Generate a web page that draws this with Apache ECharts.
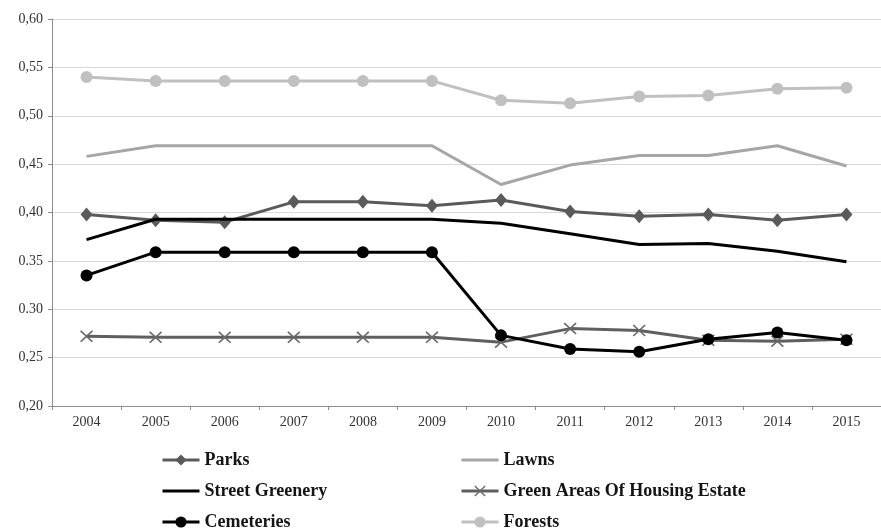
<!DOCTYPE html>
<html>
<head>
<meta charset="utf-8">
<script src="https://cdn.jsdelivr.net/npm/echarts@6/dist/echarts.min.js"></script>
<style>html,body{margin:0;padding:0;background:#fff;}#c{width:881px;height:529px;}</style>
</head>
<body>
<div id="c"></div>
<script>
var years = ['2004','2005','2006','2007','2008','2009','2010','2011','2012','2013','2014','2015'];
var yTickLabels = {'0.2':'0,20','0.25':'0,25','0.3':'0.30','0.35':'0.35','0.4':'0,40','0.45':'0,45','0.5':'0,50','0.55':'0,55','0.6':'0,60'};
var parks = [0.398, 0.392, 0.390, 0.411, 0.411, 0.407, 0.413, 0.401, 0.396, 0.398, 0.392, 0.398];
var lawns = [0.458, 0.469, 0.469, 0.469, 0.469, 0.469, 0.429, 0.449, 0.459, 0.459, 0.469, 0.448];
var streetGreenery = [0.372, 0.393, 0.393, 0.393, 0.393, 0.393, 0.389, 0.378, 0.367, 0.368, 0.360, 0.349];
var housingEstate = [0.272, 0.271, 0.271, 0.271, 0.271, 0.271, 0.266, 0.280, 0.278, 0.268, 0.267, 0.269];
var cemeteries = [0.335, 0.359, 0.359, 0.359, 0.359, 0.359, 0.273, 0.259, 0.256, 0.269, 0.276, 0.268];
var forests = [0.540, 0.536, 0.536, 0.536, 0.536, 0.536, 0.516, 0.513, 0.520, 0.521, 0.528, 0.529];

var xPath = 'path://M0,0.9L0.9,0L5,4.1L9.1,0L10,0.9L5.9,5L10,9.1L9.1,10L5,5.9L0.9,10L0,9.1L4.1,5Z';
var font = 'Liberation Serif';
var legendText = {fontFamily: font, fontWeight: 'bold', fontSize: 18, color: '#151515'};

var chart = echarts.init(document.getElementById('c'));
chart.setOption({
  backgroundColor: '#ffffff',
  animation: false,
  grid: {left: 52, top: 19, width: 836, height: 387},
  xAxis: {
    type: 'category',
    data: years,
    boundaryGap: true,
    axisLine: {lineStyle: {color: '#8c8c8c', width: 1}},
    axisTick: {show: true, length: 4, inside: false, lineStyle: {color: '#8c8c8c'}},
    axisLabel: {color: '#333', fontFamily: font, fontSize: 14, margin: 9}
  },
  yAxis: {
    type: 'value',
    min: 0.2, max: 0.6, interval: 0.05,
    axisLine: {show: true, lineStyle: {color: '#8c8c8c', width: 1}},
    axisTick: {show: true, length: 4, lineStyle: {color: '#8c8c8c'}},
    splitLine: {lineStyle: {color: '#d9d9d9', width: 1}},
    axisLabel: {
      color: '#333', fontFamily: font, fontSize: 14, margin: 9,
      formatter: function (v) { var k = String(Math.round(v * 100) / 100); return yTickLabels[k] || k; }
    }
  },
  legend: [
    {
      orient: 'vertical', left: 161, top: 451, height: 90, padding: 0, itemGap: 13, itemWidth: 37, itemHeight: 14,
      lineStyle: {width: 3},
      data: ['Parks', {name: 'Street Greenery', itemStyle: {opacity: 0}}, 'Cemeteries'],
      textStyle: legendText
    },
    {
      orient: 'vertical', left: 460, top: 451, height: 90, padding: 0, itemGap: 13, itemWidth: 37, itemHeight: 14,
      lineStyle: {width: 3},
      data: [{name: 'Lawns', itemStyle: {opacity: 0}}, 'Green Areas Of Housing Estate', 'Forests'],
      textStyle: legendText
    }
  ],
  series: [
    {name: 'Lawns', type: 'line', data: lawns, symbol: 'none', z: 2,
      lineStyle: {color: '#a6a6a6', width: 3}, itemStyle: {color: '#a6a6a6'}},
    {name: 'Forests', type: 'line', data: forests, symbol: 'circle', symbolSize: 12, z: 2,
      lineStyle: {color: '#c0c0c0', width: 3}, itemStyle: {color: '#c0c0c0'}},
    {name: 'Parks', type: 'line', data: parks, symbol: 'diamond', symbolSize: [12, 14], z: 3,
      lineStyle: {color: '#5a5a5a', width: 3}, itemStyle: {color: '#5a5a5a'}},
    {name: 'Street Greenery', type: 'line', data: streetGreenery, symbol: 'none', z: 4,
      lineStyle: {color: '#000000', width: 3}, itemStyle: {color: '#000000'}},
    {name: 'Green Areas Of Housing Estate', type: 'line', data: housingEstate, symbol: xPath, symbolSize: [13, 12], z: 3,
      lineStyle: {color: '#5f5f5f', width: 3}, itemStyle: {color: '#6a6a6a'}},
    {name: 'Cemeteries', type: 'line', data: cemeteries, symbol: 'circle', symbolSize: 12, z: 5,
      lineStyle: {color: '#000000', width: 3}, itemStyle: {color: '#000000'}}
  ]
});
</script>
</body>
</html>
